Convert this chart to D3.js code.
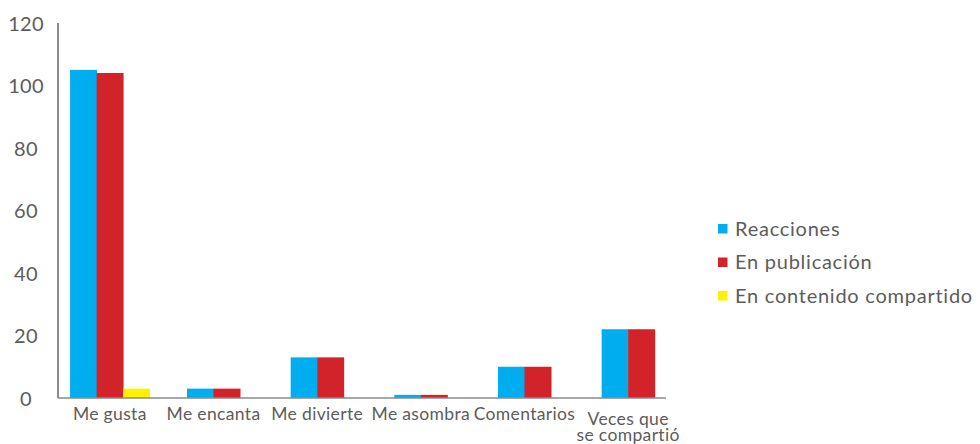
<!DOCTYPE html>
<html><head><meta charset="utf-8">
<script src="https://cdn.jsdelivr.net/npm/d3@7"></script>
<style>
body{margin:0;background:#fff}
svg text{font-family:Lato,"Open Sans",sans-serif;fill:#5c5c5c}
</style></head>
<body><svg id="c" width="980" height="444"></svg>
<script>
const categories = ["Me gusta","Me encanta","Me divierte","Me asombra","Comentarios","Veces que\nse compartió"];
const seriesNames = ["Reacciones","En publicación","En contenido compartido"];
const reacciones = [105,3,13,1,10,22];
const enPublicacion = [104,3,13,1,10,22];
const enContenido = [3,null,null,null,null,null];
const yTicks = [0,20,40,60,80,100,120];
const colors = ["#00aeef","#d2232a","#fff200"];

const series = [reacciones, enPublicacion, enContenido];
const svg = d3.select("#c");
const M = {left:58, right:680, top:23, bottom:398};

const x = d3.scaleBand().domain(categories).range([M.left, M.right])
  .paddingInner(0.233).paddingOuter(0.1165);
const y = d3.scaleLinear().domain([0,120]).range([M.bottom, M.top]);

// bars
const barW = x.bandwidth()/3;
categories.forEach((c,i)=>{
  const present = seriesNames.filter((s,k)=>series[k][i]!=null);
  const center = x(c)+x.bandwidth()/2;
  const gw = present.length*barW;
  const inner = d3.scaleBand().domain(present).range([center-gw/2, center+gw/2]);
  const g = svg.append("g");
  g.selectAll("rect").data(present).join("rect")
    .attr("x", s=>inner(s))
    .attr("width", inner.bandwidth()+0.5)
    .attr("y", s=>y(series[seriesNames.indexOf(s)][i]))
    .attr("height", s=>M.bottom - y(series[seriesNames.indexOf(s)][i]))
    .attr("fill", s=>colors[seriesNames.indexOf(s)]);
});

// y axis
const yAxis = svg.append("g").attr("transform",`translate(${M.left},0)`)
  .call(d3.axisLeft(y).tickValues(yTicks).tickSize(0).tickPadding(0));
yAxis.select(".domain").remove();
yAxis.selectAll("text").attr("x",-32).attr("text-anchor","middle")
  .style("font-size","20px").style("letter-spacing","0.3px").attr("dy","0.35em");
svg.append("line").attr("x1",M.left).attr("x2",M.left)
  .attr("y1",y(120)).attr("y2",M.bottom)
  .attr("stroke","#6e6e6e").attr("stroke-width",1.6);

// x axis
svg.append("line").attr("x1",M.left).attr("x2",M.right-14)
  .attr("y1",M.bottom).attr("y2",M.bottom)
  .attr("stroke","#8a8a8a").attr("stroke-width",1.6);
categories.forEach(c=>{
  const lines = c.split("\n");
  const cx = x(c)+x.bandwidth()/2;
  const t = svg.append("text").attr("text-anchor","middle")
    .style("font-size","17.5px").style("letter-spacing","0.35px");
  lines.forEach((l,j)=>{
    t.append("tspan").attr("x",cx)
      .attr("y", M.bottom + (lines.length>1 ? 27 : 22) + j*16)
      .text(l);
  });
});

// legend
const lg = svg.append("g").attr("transform","translate(718,224)");
seriesNames.forEach((s,k)=>{
  const r = lg.append("g").attr("transform",`translate(0,${k*33.5})`);
  r.append("rect").attr("width",9.5).attr("height",9.5).attr("fill",colors[k]);
  r.append("text").attr("x",17).attr("y",4.75).attr("dy","0.35em")
    .style("font-size","20px").style("letter-spacing","0.75px").text(s);
});
</script>
</body></html>
